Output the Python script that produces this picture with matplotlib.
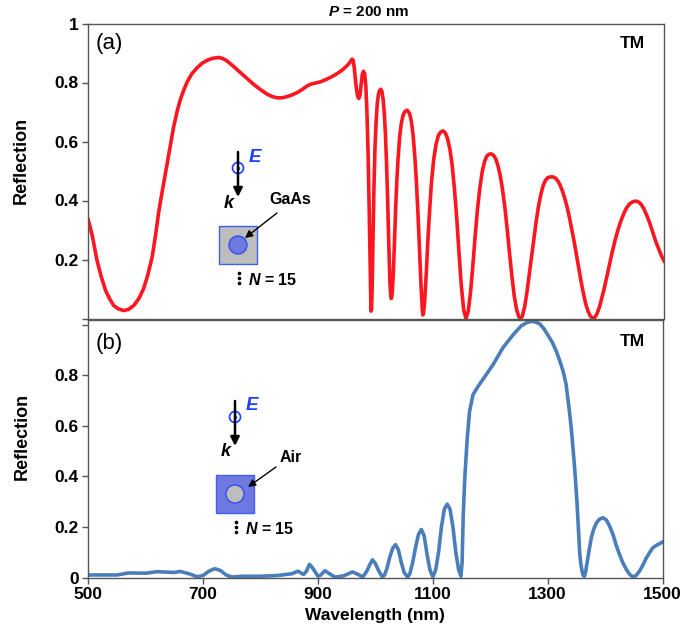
import matplotlib
matplotlib.use("Agg")
import matplotlib.pyplot as plt
from matplotlib.patches import Circle, Rectangle

plt.rcParams['font.family'] = ['Liberation Sans', 'DejaVu Sans']
plt.rcParams['mathtext.fontset'] = 'custom'
plt.rcParams['mathtext.bfit'] = 'Liberation Sans:italic:bold'

# (a) GaAs rods
wl_a = [500, 507, 515, 522, 530, 537, 544, 552, 561, 570, 579, 588, 596, 603, 611, 617, 622, 627, 632, 640,
        648, 654, 660, 666, 672, 680, 689, 697, 706, 716, 727, 734, 741, 752, 764, 775, 787, 799, 811, 820,
        828, 836, 845, 854, 863, 872, 880, 886, 894, 903, 915, 927, 936, 944, 951, 955, 958, 960, 962, 964,
        966, 968, 970, 972, 974, 976, 978, 980, 982, 984, 986, 988, 990, 991, 992, 993, 994, 995, 996, 997,
        998, 1000, 1002, 1004, 1006, 1008, 1010, 1012, 1014, 1016, 1018, 1020, 1022, 1024, 1025, 1026, 1027, 1028, 1030, 1032,
        1034, 1036, 1038, 1041, 1044, 1047, 1050, 1054, 1058, 1061, 1064, 1067, 1070, 1073, 1076, 1078, 1080, 1081, 1082, 1084,
        1087, 1090, 1093, 1096, 1100, 1104, 1108, 1112, 1116, 1120, 1124, 1128, 1132, 1136, 1140, 1144, 1148, 1152, 1156, 1160,
        1164, 1168, 1172, 1176, 1180, 1184, 1188, 1192, 1196, 1200, 1204, 1208, 1212, 1216, 1220, 1224, 1228, 1232, 1236, 1240,
        1244, 1248, 1251, 1254, 1258, 1262, 1266, 1270, 1274, 1278, 1282, 1286, 1290, 1294, 1298, 1302, 1307, 1312, 1316, 1320,
        1324, 1328, 1332, 1336, 1340, 1344, 1348, 1352, 1356, 1360, 1364, 1368, 1372, 1376, 1380, 1384, 1388, 1392, 1396, 1400,
        1405, 1410, 1415, 1420, 1425, 1430, 1435, 1440, 1445, 1450, 1455, 1460, 1465, 1470, 1475, 1480, 1485, 1490, 1495, 1500]
refl_a = [.334, .28, .198, .145, .095, .067, .044, .033, .027, .031, .044, .068, .101, .145, .209, .285, .357, .415, .47, .56,
          .647, .70, .743, .775, .803, .83, .85, .864, .875, .882, .885, .881, .873, .855, .834, .815, .794, .776, .76, .752,
          .748, .748, .752, .758, .766, .777, .788, .794, .798, .802, .812, .824, .835, .847, .86, .87, .879, .876, .85, .81,
          .775, .752, .746, .758, .795, .828, .838, .83, .79, .70, .56, .36, .13, .025, .03, .10, .21, .33, .43, .51,
          .58, .67, .73, .76, .773, .777, .77, .745, .70, .63, .53, .40, .25, .12, .085, .068, .07, .09, .16, .27,
          .38, .47, .54, .62, .665, .69, .702, .706, .695, .67, .625, .555, .46, .34, .20, .11, .035, .012, .015, .05,
          .15, .27, .37, .46, .54, .59, .62, .632, .636, .63, .61, .575, .52, .44, .34, .22, .11, .03, 0, .025,
          .09, .18, .28, .37, .44, .495, .53, .55, .557, .558, .553, .54, .515, .48, .43, .37, .295, .215, .14, .075,
          .03, .005, 0, .008, .04, .09, .15, .21, .27, .33, .38, .42, .45, .468, .477, .48, .48, .475, .465, .45,
          .43, .405, .375, .34, .30, .26, .215, .17, .125, .085, .05, .025, .008, 0, .004, .018, .04, .07, .10, .135,
          .18, .225, .265, .30, .33, .355, .375, .388, .395, .398, .396, .388, .372, .35, .325, .295, .265, .24, .215, .195]

# (b) air holes
wl_b = [500, 525, 550, 570, 600, 620, 650, 660, 675, 690, 700, 710, 720, 730, 740, 750, 770, 800, 830, 855,
        865, 875, 880, 885, 890, 900, 905, 912, 920, 930, 945, 960, 970, 978, 985, 990, 995, 1000, 1005, 1012,
        1016, 1020, 1025, 1030, 1035, 1040, 1045, 1050, 1056, 1060, 1065, 1070, 1075, 1080, 1085, 1090, 1095, 1100,
        1105, 1110, 1115, 1120, 1125, 1130, 1135, 1140, 1145, 1149, 1151, 1153, 1156, 1160, 1164, 1170, 1179, 1193,
        1205, 1222, 1240, 1254, 1264, 1272, 1280, 1286, 1293, 1300, 1308, 1315, 1321, 1327, 1332, 1335, 1338, 1341,
        1344, 1347, 1351, 1354, 1356, 1358, 1360, 1362, 1364, 1366, 1368, 1372, 1376, 1380, 1385, 1390, 1396, 1402,
        1408, 1414, 1419, 1425, 1431, 1437, 1443, 1447, 1450, 1454, 1460, 1466, 1472, 1478, 1483, 1490, 1500]
refl_b = [.01, .01, .01, .018, .017, .023, .02, .024, .015, .003, .008, .025, .035, .028, .01, .002, .005, .005, .008, .015,
          .025, .012, .025, .052, .04, .005, .01, .027, .015, .001, .007, .022, .012, .002, .025, .05, .07, .055, .03, .002,
          .01, .035, .08, .115, .13, .11, .06, .02, .002, .015, .06, .12, .17, .19, .165, .09, .03, .002,
          .03, .1, .2, .27, .29, .27, .2, .1, .03, .005, .06, .25, .407, .552, .657, .723, .756, .802,
          .842, .908, .96, .995, 1.008, 1.013, 1.009, 1.003, .985, .96, .93, .895, .857, .815, .765, .71, .655, .592,
          .515, .433, .30, .17, .09, .05, .025, .008, .005, .02, .05, .105, .157, .19, .216, .23, .236, .228,
          .203, .168, .13, .092, .058, .032, .012, .005, .003, .008, .025, .05, .078, .10, .117, .128, .14]

yticks_a = [0, 0.2, 0.4, 0.6, 0.8, 1]
yticklabels_a = ['', '0.2', '0.4', '0.6', '0.8', '1']
yticks_b = [0, 0.2, 0.4, 0.6, 0.8, 1]
yticklabels_b = ['0', '0.2', '0.4', '0.6', '0.8', '']
xticks = [500, 700, 900, 1100, 1300, 1500]

W, H = 684, 635
spine_col = '#555555'

fig = plt.figure(figsize=(W / 100, H / 100), dpi=100)
ax1 = fig.add_axes([88.3 / W, 1 - 318.5 / H, 575.7 / W, 295 / H])
ax2 = fig.add_axes([88.3 / W, 1 - 577.5 / H, 574.2 / W, 257.5 / H])

ax1.plot(wl_a, refl_a, color='#fb1620', lw=2.6, solid_joinstyle='round')
ax2.plot(wl_b, refl_b, color='#4a7ebb', lw=2.6, solid_joinstyle='round')

ax1.set_xlim(500, 1500)
ax1.set_ylim(0, 1)
ax2.set_xlim(500, 1500)
ax2.set_ylim(0, 1.018)

ax1.set_yticks(yticks_a, yticklabels_a)
ax1.set_xticks([])
ax2.set_yticks(yticks_b, yticklabels_b)
ax2.set_xticks(xticks)
ax2.set_xlabel('Wavelength (nm)', fontsize=12.5, fontweight='bold', labelpad=4)

ax1.set_ylabel('Reflection', fontsize=13, fontweight='bold')
ax2.set_ylabel('Reflection', fontsize=13, fontweight='bold')
ax1.yaxis.set_label_coords(-58 / 575, 0.537)
ax2.yaxis.set_label_coords(-58 / 575, 0.546)

for ax in (ax1, ax2):
    ax.tick_params(length=4, width=1.0, color=spine_col, labelsize=12.5, pad=3)
    for lab in ax.get_xticklabels() + ax.get_yticklabels():
        lab.set_fontweight('bold')
    for s in ax.spines.values():
        s.set_color(spine_col)
        s.set_linewidth(1.0)

# overlay in pixel coordinates for the labels and the little sketches
ov = fig.add_axes([0, 0, 1, 1])
ov.set_xlim(0, W)
ov.set_ylim(H, 0)
ov.axis('off')
ov.patch.set_alpha(0)

ov.text(369, 12, r'$\mathbfit{P}$ = 200 nm', ha='center', va='center', fontsize=11, fontweight='bold')
ov.text(96, 44, '(a)', ha='left', va='center', fontsize=16)
ov.text(96, 343, '(b)', ha='left', va='center', fontsize=16)
ov.text(632, 43, 'TM', ha='center', va='center', fontsize=12.5, fontweight='bold')
ov.text(632, 341, 'TM', ha='center', va='center', fontsize=12.5, fontweight='bold')


def sketch(x0, y0, hole_face, box_face, name, name_xy, arrow_tip, arrow_tail):
    blue = '#1f3fff'
    ov.annotate('', xy=(x0, y0 + 44), xytext=(x0, y0 - 1),
                arrowprops=dict(arrowstyle='-|>', color='black', lw=1.8, shrinkA=0, shrinkB=0, mutation_scale=13))
    ov.add_patch(Circle((x0, y0 + 15), 5.5, fill=False, ec=blue, lw=1.2))
    ov.plot([x0], [y0 + 15], 'o', color=blue, ms=1.5)
    ov.text(x0 + 10, y0 + 4, r'$\mathbfit{E}$', color=blue, fontsize=13.5, va='center')
    ov.text(x0 - 9, y0 + 50, r'$\mathbfit{k}$', color='black', fontsize=13, va='center', ha='center')
    ov.add_patch(Rectangle((x0 - 19, y0 + 73), 38, 38, fc=box_face, ec='#4060f0', lw=1))
    ov.add_patch(Circle((x0, y0 + 92), 9, fc=hole_face, ec='#3050f0', lw=1))
    ov.text(name_xy[0], name_xy[1], name, fontsize=11.5, fontweight='bold', ha='center', va='center')
    ov.annotate('', xy=arrow_tip, xytext=arrow_tail,
                arrowprops=dict(arrowstyle='-|>', color='black', lw=1, shrinkA=0, shrinkB=0, mutation_scale=11))
    ov.plot([x0 + 1] * 3, [y0 + 120, y0 + 125, y0 + 130], 'o', color='black', ms=1.6)
    ov.text(x0 + 10, y0 + 127, r'$\mathbfit{N}$ = 15', fontsize=11.5, fontweight='bold', va='center')


sketch(238, 153, '#6f78e0', '#bdbdbd', 'GaAs', (290, 200), (245, 238), (277, 213))
sketch(235, 402, '#bdbdbd', '#6f78e0', 'Air', (291, 458), (248, 487), (276, 467))

fig.savefig('out.png', dpi=100)
